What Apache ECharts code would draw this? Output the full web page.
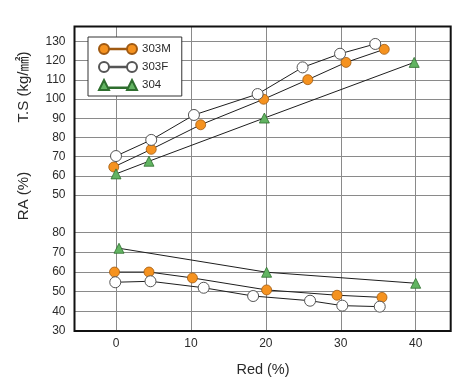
<!DOCTYPE html>
<html>
<head>
<meta charset="utf-8">
<script src="https://cdn.jsdelivr.net/npm/echarts@6/dist/echarts.min.js"></script>
<style>
html,body{margin:0;padding:0;background:#fff;}
#chart{width:469px;height:382px;}
</style>
</head>
<body>
<div id="chart"></div>
<script>
// ---- data ----
const xTicks = [0, 10, 20, 30, 40];
const tsTicks = [50, 60, 70, 80, 90, 100, 110, 120, 130];
const raTicks = [30, 40, 50, 60, 70, 80];
const materials = ['303M', '303F', '304'];

const ts303M = [[-0.3, 64.6], [4.7, 73.8], [11.3, 86.6], [19.7, 99.9], [25.6, 110.1], [30.7, 119.1], [35.8, 125.9]];
const ts303F = [[0, 70.3], [4.7, 78.7], [10.4, 91.7], [18.9, 102.6], [24.9, 116.5], [29.9, 123.6], [34.6, 128.7]];
const ts304  = [[0, 61], [4.4, 67.6], [19.8, 90.1], [39.8, 119.1]];

const ra303M = [[-0.2, 60], [4.4, 60], [10.2, 57], [20.1, 50.9], [29.5, 48.2], [35.5, 47.1]];
const ra303F = [[-0.1, 54.8], [4.6, 55.3], [11.7, 52], [18.3, 47.8], [25.9, 45.4], [30.2, 42.9], [35.2, 42.4]];
const ra304  = [[0.4, 72.1], [20.1, 59.9], [40, 54.3]];

const xTitle = 'Red (%)';
const tsTitle = 'T.S (kg/㎟)';
const raTitle = 'RA (%)';

// ---- layout ----
const W = 469, H = 382;
const L = 74.5, R = 450.7, T = 26.5, MID = 195, B = 331;
const FONT = '"Liberation Sans", Arial, "Noto Sans CJK JP", sans-serif';
const TXT = '#2a2a2a';
const GRIDC = '#8a8a8a';

const styles = {
  '303M': {symbol: 'circle', symbolSize: 10, itemStyle: {color: '#F5921F', borderColor: '#a05a12', borderWidth: 0.8}},
  '303F': {symbol: 'circle', symbolSize: 11, itemStyle: {color: '#ffffff', borderColor: '#555', borderWidth: 1}},
  '304':  {symbol: 'triangle', symbolSize: 10, itemStyle: {color: '#62b462', borderColor: '#2e6e2e', borderWidth: 0.8}}
};
const icons = {
  '303M': 'path://M0,5A5,5 0 1 1 10,5A5,5 0 1 1 0,5ZM10,4.8L28,4.8L28,5.2L10,5.2ZM28,5A5,5 0 1 1 38,5A5,5 0 1 1 28,5Z',
  '303F': 'path://M0,5A5,5 0 1 1 10,5A5,5 0 1 1 0,5ZM10,4.8L28,4.8L28,5.2L10,5.2ZM28,5A5,5 0 1 1 38,5A5,5 0 1 1 28,5Z',
  '304':  'path://M0,10L5,1L10,10ZM10,7.8L28,7.8L28,8.2L10,8.2ZM28,10L33,1L38,10Z'
};

function mk(name, data, idx) {
  const s = styles[name];
  return {
    name: name, type: 'line', data: data,
    xAxisIndex: idx, yAxisIndex: idx,
    symbol: s.symbol, symbolSize: s.symbolSize, itemStyle: s.itemStyle,
    lineStyle: {color: '#1e1e1e', width: 1},
    emphasis: {disabled: true}, animation: false
  };
}

const xCommon = {
  type: 'value', min: -5.54, max: 44.67,
  axisLine: {show: false}, axisTick: {show: false, customValues: xTicks},
  splitLine: {show: true, lineStyle: {color: GRIDC, width: 1}}
};

const option = {
  backgroundColor: '#fff',
  animation: false,
  textStyle: {fontFamily: FONT},
  grid: [
    {left: L, right: W - R, top: T, height: MID - T, containLabel: false},
    {left: L, right: W - R, top: MID, height: B - MID, containLabel: false}
  ],
  xAxis: [
    Object.assign({}, xCommon, {gridIndex: 0, axisLabel: {show: false, customValues: xTicks}}),
    Object.assign({}, xCommon, {gridIndex: 1,
      axisLabel: {show: true, customValues: xTicks, color: TXT, fontSize: 12, margin: 7, fontFamily: FONT}})
  ],
  yAxis: [
    {type: 'value', gridIndex: 0, min: 50, max: 137.8,
     axisLine: {show: false}, axisTick: {show: false, customValues: tsTicks},
     axisLabel: {customValues: tsTicks, color: TXT, fontSize: 12, margin: 9, fontFamily: FONT},
     splitLine: {show: true, lineStyle: {color: GRIDC, width: 1}}},
    {type: 'value', gridIndex: 1, min: 30, max: 99.2,
     axisLine: {show: false}, axisTick: {show: false, customValues: raTicks},
     axisLabel: {customValues: raTicks, color: TXT, fontSize: 12, margin: 9, fontFamily: FONT},
     splitLine: {show: true, lineStyle: {color: GRIDC, width: 1}}}
  ],
  legend: {
    left: 88, top: 37, orient: 'vertical',
    padding: [6, 11, 5, 10], itemGap: 6, itemWidth: 38, itemHeight: 10,
    symbolKeepAspect: false,
    borderColor: '#333', borderWidth: 1, backgroundColor: '#fff',
    textStyle: {fontSize: 11.5, color: TXT, fontFamily: FONT},
    data: materials.map(m => ({name: m, icon: icons[m]}))
  },
  series: [
    mk('303M', ts303M, 0), mk('303F', ts303F, 0), mk('304', ts304, 0),
    mk('303M', ra303M, 1), mk('303F', ra303F, 1), mk('304', ra304, 1)
  ],
  graphic: [
    {type: 'rect', z: 100, silent: true,
     shape: {x: L, y: T, width: R - L, height: B - T},
     style: {fill: 'none', stroke: '#111', lineWidth: 2}},
    {type: 'text', x: 263, y: 370, silent: true,
     style: {text: xTitle, fill: TXT, font: '14.5px ' + FONT, textAlign: 'center', textVerticalAlign: 'middle'}},
    {type: 'text', x: 24, y: 87, rotation: Math.PI / 2, silent: true,
     style: {text: tsTitle, fill: TXT, font: '15px ' + FONT, textAlign: 'center', textVerticalAlign: 'middle'}},
    {type: 'text', x: 24, y: 196, rotation: Math.PI / 2, silent: true,
     style: {text: raTitle, fill: TXT, font: '15px ' + FONT, textAlign: 'center', textVerticalAlign: 'middle'}}
  ]
};

const chart = echarts.init(document.getElementById('chart'), null, {renderer: 'canvas', width: W, height: H});
chart.setOption(option);
</script>
</body>
</html>
